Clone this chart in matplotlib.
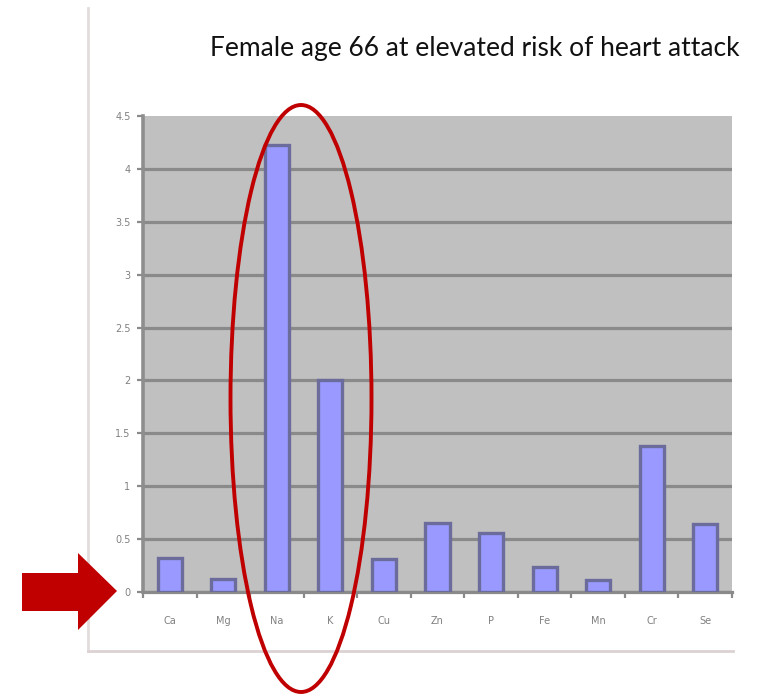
import matplotlib
matplotlib.use("Agg")
import matplotlib.pyplot as plt
from matplotlib.patches import Ellipse, Polygon
from matplotlib.lines import Line2D

# Mineral ratios from a hair tissue analysis
elements = ["Ca", "Mg", "Na", "K", "Cu", "Zn", "P", "Fe", "Mn", "Cr", "Se"]
levels = [0.32, 0.12, 4.23, 2.00, 0.31, 0.65, 0.56, 0.24, 0.11, 1.38, 0.64]
y_ticks = [0, 0.5, 1, 1.5, 2, 2.5, 3, 3.5, 4, 4.5]
y_tick_labels = ["0", "0.5", "1", "1.5", "2", "2.5", "3", "3.5", "4", "4.5"]
title_text = "Female age 66 at elevated risk of heart attack"

W, H = 777, 697
fig = plt.figure(figsize=(W / 100, H / 100), dpi=100)
fig.patch.set_facecolor("white")

# chart area in pixel coordinates
left, right, top, bottom = 143, 732, 116, 592
ax = fig.add_axes([left / W, (H - bottom) / H, (right - left) / W, (bottom - top) / H])
ax.set_facecolor("#c0c0c0")

x = list(range(len(elements)))
ax.bar(x, levels, width=0.45, color="#9999ff", edgecolor="#6c6c9c",
       linewidth=2.4, zorder=3)

ax.set_xlim(-0.5, len(elements) - 0.5)
ax.set_ylim(0, 4.5)
ax.set_yticks(y_ticks)
ax.set_yticklabels(y_tick_labels)
ax.yaxis.grid(True, color="#8a8a8a", linewidth=2.3, zorder=1)
ax.set_axisbelow(True)
# the top edge of the chart area has no gridline
ax.yaxis.get_gridlines()[-1].set_visible(False)

ax.set_xticks(x)
ax.set_xticklabels(elements)
ax.set_xticks([i + 0.5 for i in range(-1, len(elements))], minor=True)
ax.tick_params(axis="x", which="major", length=0, pad=17, labelsize=7,
               labelcolor="#808080")
ax.tick_params(axis="x", which="minor", length=4, width=1.6, color="#8a8a8a",
               direction="out")
ax.tick_params(axis="y", length=4, width=1.6, color="#8a8a8a", pad=5,
               labelsize=7, labelcolor="#808080")

for side in ["top", "right"]:
    ax.spines[side].set_visible(False)
ax.spines["left"].set_color("#8e8e8e")
ax.spines["left"].set_linewidth(2.6)
ax.spines["bottom"].set_color("#8a8a8a")
ax.spines["bottom"].set_linewidth(2.3)

# overlay in pixel coordinates for the title, frame and highlight marks
ov = fig.add_axes([0, 0, 1, 1], facecolor="none")
ov.set_xlim(0, W)
ov.set_ylim(H, 0)
ov.axis("off")

ov.add_line(Line2D([88, 88], [8, 651], color="#e2dcdc", linewidth=2))
ov.add_line(Line2D([88, 733], [651, 651], color="#dcd2d4", linewidth=2))

ov.text(210, 56, title_text, fontsize=19, family="Lato", color="#111111",
        ha="left", va="baseline")

ov.add_patch(Ellipse((301, 398.5), 141, 587, fill=False, edgecolor="#c00000",
                     linewidth=2.8, zorder=5))

arrow = [(22, 573), (78, 573), (78, 553), (117, 591), (78, 630), (78, 611), (22, 611)]
ov.add_patch(Polygon(arrow, closed=True, facecolor="#c00000", edgecolor="none", zorder=5))

fig.savefig("out.png", dpi=100, facecolor="white")
